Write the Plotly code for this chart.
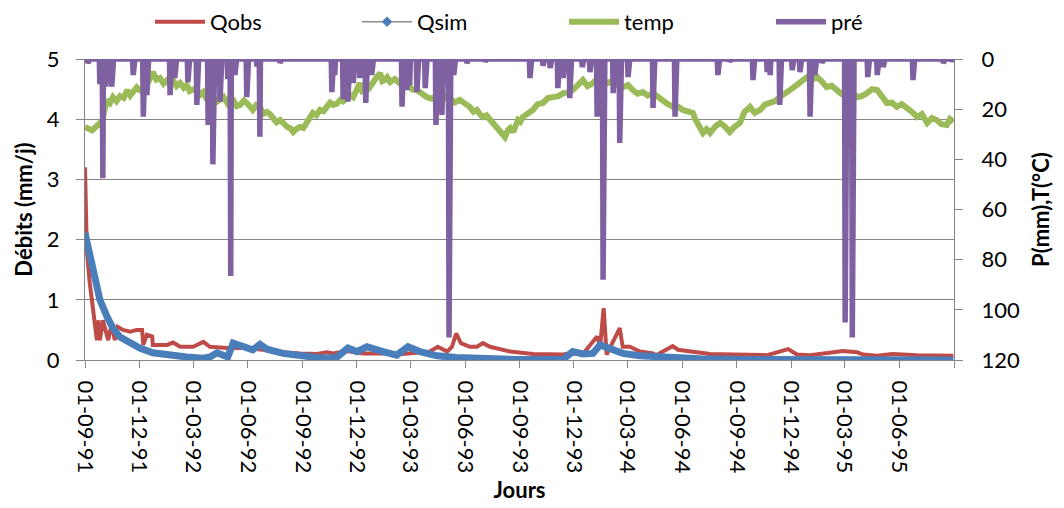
import pandas as pd
import plotly.graph_objects as go

# --- x-axis tick labels (quarterly) -------------------------------------
tick_labels = ["01-09-91", "01-12-91", "01-03-92", "01-06-92", "01-09-92",
               "01-12-92", "01-03-93", "01-06-93", "01-09-93", "01-12-93",
               "01-03-94", "01-06-94", "01-09-94", "01-12-94", "01-03-95",
               "01-06-95"]

# --- observed discharge (mm/j) --------------------------------------------
qobs_dates = ["1991-09-01", "1991-09-02", "1991-09-04", "1991-09-09", "1991-09-14",
              "1991-09-21", "1991-09-23", "1991-09-26", "1991-10-01", "1991-10-10",
              "1991-10-16", "1991-10-21", "1991-10-26", "1991-11-04", "1991-11-16",
              "1991-11-27", "1991-12-06", "1991-12-08", "1991-12-14", "1991-12-23",
              "1991-12-24", "1992-01-17", "1992-01-27", "1992-02-08", "1992-03-01",
              "1992-03-18", "1992-03-29", "1992-04-27", "1992-05-30", "1992-06-21",
              "1992-07-30", "1992-08-27", "1992-09-25", "1992-10-12", "1992-10-22",
              "1992-11-14", "1992-12-11", "1993-01-13", "1993-02-15", "1993-04-03",
              "1993-04-16", "1993-05-02", "1993-05-10", "1993-05-17", "1993-05-25",
              "1993-06-09", "1993-06-21", "1993-07-01", "1993-07-13", "1993-08-16",
              "1993-09-23", "1993-11-13", "1993-11-24", "1993-12-16", "1994-01-09",
              "1994-01-14", "1994-01-20", "1994-01-25", "1994-02-05", "1994-02-16",
              "1994-02-21", "1994-03-05", "1994-03-22", "1994-04-13", "1994-04-18",
              "1994-05-16", "1994-05-25", "1994-07-18", "1994-08-25", "1994-10-22",
              "1994-11-26", "1994-12-11", "1995-01-02", "1995-01-30", "1995-02-26",
              "1995-03-22", "1995-04-01", "1995-04-25", "1995-05-20", "1995-07-01",
              "1995-08-31"]
qobs_vals = [3.20, 2.60, 1.83, 1.28, 0.83,
             0.33, 0.66, 0.33, 0.66, 0.33,
             0.61, 0.33, 0.55, 0.50, 0.47,
             0.50, 0.50, 0.25, 0.42, 0.39,
             0.25, 0.25, 0.29, 0.22, 0.22,
             0.30, 0.22, 0.20, 0.20, 0.17,
             0.13, 0.11, 0.10, 0.13, 0.11,
             0.15, 0.11, 0.11, 0.10, 0.14,
             0.22, 0.14, 0.22, 0.44, 0.28,
             0.22, 0.22, 0.28, 0.22, 0.14,
             0.10, 0.09, 0.11, 0.10, 0.39,
             0.22, 0.86, 0.09, 0.33, 0.53,
             0.22, 0.22, 0.14, 0.11, 0.08,
             0.23, 0.17, 0.10, 0.09, 0.08,
             0.18, 0.09, 0.08, 0.12, 0.15,
             0.13, 0.09, 0.07, 0.10, 0.08,
             0.07]

# --- simulated discharge (mm/j) -------------------------------------------
qsim_dates = ["1991-09-01", "1991-09-09", "1991-09-18", "1991-09-26", "1991-10-08",
              "1991-10-18", "1991-10-30", "1991-11-16", "1991-12-02", "1991-12-24",
              "1992-01-17", "1992-02-19", "1992-03-17", "1992-03-29", "1992-04-10",
              "1992-04-18", "1992-04-28", "1992-05-07", "1992-05-19", "1992-05-30",
              "1992-06-09", "1992-06-21", "1992-07-03", "1992-07-30", "1992-08-27",
              "1992-09-25", "1992-10-17", "1992-10-29", "1992-11-16", "1992-12-01",
              "1992-12-18", "1992-12-28", "1993-01-14", "1993-02-06", "1993-02-25",
              "1993-03-17", "1993-04-15", "1993-05-18", "1993-07-01", "1993-08-27",
              "1993-11-13", "1993-11-29", "1993-12-16", "1994-01-02", "1994-01-14",
              "1994-01-30", "1994-02-21", "1994-03-22", "1994-05-06", "1994-07-01",
              "1994-09-05", "1995-08-31"]
qsim_vals = [2.11, 1.71, 1.33, 1.00, 0.72,
             0.53, 0.38, 0.28, 0.20, 0.12,
             0.08, 0.05, 0.03, 0.05, 0.12,
             0.08, 0.05, 0.28, 0.25, 0.20,
             0.17, 0.26, 0.18, 0.11, 0.07,
             0.04, 0.03, 0.05, 0.20, 0.14,
             0.22, 0.20, 0.14, 0.08, 0.22,
             0.14, 0.07, 0.04, 0.02, 0.01,
             0.01, 0.14, 0.10, 0.11, 0.25,
             0.20, 0.11, 0.07, 0.04, 0.02,
             0.01, 0.00]

# --- temperature (°C) -----------------------------------------------------
temp_dates = [
    "1991-09-01", "1991-09-13", "1991-09-26", "1991-09-29", "1991-10-03", "1991-10-05",
    "1991-10-08", "1991-10-13", "1991-10-18", "1991-10-24", "1991-10-30", "1991-11-05",
    "1991-11-11", "1991-11-16", "1991-11-21", "1991-11-27", "1991-12-02", "1991-12-08",
    "1991-12-14", "1991-12-19", "1991-12-24", "1991-12-30", "1992-01-05", "1992-01-11",
    "1992-01-17", "1992-01-22", "1992-01-27", "1992-02-02", "1992-02-08", "1992-02-14",
    "1992-02-19", "1992-02-24", "1992-03-01", "1992-03-06", "1992-03-12", "1992-03-18",
    "1992-03-24", "1992-03-29", "1992-04-03", "1992-04-09", "1992-04-15", "1992-04-21",
    "1992-04-27", "1992-05-02", "1992-05-07", "1992-05-13", "1992-05-19", "1992-05-25",
    "1992-05-30", "1992-06-04", "1992-06-09", "1992-06-15", "1992-06-21", "1992-06-27",
    "1992-07-03", "1992-07-08", "1992-07-13", "1992-07-19", "1992-07-25", "1992-07-31",
    "1992-08-06", "1992-08-11", "1992-08-16", "1992-08-21", "1992-08-27", "1992-09-02",
    "1992-09-08", "1992-09-13", "1992-09-18", "1992-09-24", "1992-09-30", "1992-10-06",
    "1992-10-12", "1992-10-17", "1992-10-22", "1992-10-28", "1992-11-03", "1992-11-08",
    "1992-11-14", "1992-11-19", "1992-11-25", "1992-11-30", "1992-12-06", "1992-12-10",
    "1992-12-15", "1992-12-19", "1992-12-23", "1993-01-01", "1993-01-09", "1993-01-13",
    "1993-01-17", "1993-01-21", "1993-01-26", "1993-02-03", "1993-02-12", "1993-02-18",
    "1993-02-25", "1993-03-05", "1993-03-12", "1993-03-20", "1993-03-29", "1993-04-07",
    "1993-04-15", "1993-04-20", "1993-04-25", "1993-05-01", "1993-05-07", "1993-05-15",
    "1993-05-23", "1993-06-01", "1993-06-09", "1993-06-15", "1993-06-21", "1993-06-26",
    "1993-07-01", "1993-07-07", "1993-07-13", "1993-07-19", "1993-07-25", "1993-08-01",
    "1993-08-07", "1993-08-12", "1993-08-16", "1993-08-21", "1993-08-25", "1993-08-29",
    "1993-09-02", "1993-09-06", "1993-09-14", "1993-09-23", "1993-10-01", "1993-10-10",
    "1993-10-18", "1993-10-27", "1993-11-05", "1993-11-13", "1993-11-21", "1993-11-29",
    "1993-12-07", "1993-12-16", "1993-12-24", "1994-01-02", "1994-01-10", "1994-01-19",
    "1994-01-27", "1994-02-05", "1994-02-13", "1994-02-22", "1994-03-02", "1994-03-10",
    "1994-03-18", "1994-03-27", "1994-04-04", "1994-04-13", "1994-04-21", "1994-04-30",
    "1994-05-08", "1994-05-17", "1994-05-25", "1994-06-02", "1994-06-10", "1994-06-19",
    "1994-06-23", "1994-06-28", "1994-07-02", "1994-07-06", "1994-07-12", "1994-07-18",
    "1994-07-27", "1994-08-04", "1994-08-12", "1994-08-20", "1994-08-28", "1994-09-06",
    "1994-09-14", "1994-09-23", "1994-10-01", "1994-10-10", "1994-10-18", "1994-10-27",
    "1994-11-04", "1994-11-12", "1994-11-20", "1994-11-29", "1994-12-07", "1994-12-16",
    "1994-12-22", "1994-12-28", "1995-01-05", "1995-01-14", "1995-01-22", "1995-01-30",
    "1995-02-07", "1995-02-16", "1995-02-24", "1995-03-05", "1995-03-13", "1995-03-22",
    "1995-03-30", "1995-04-08", "1995-04-16", "1995-04-25", "1995-05-03", "1995-05-11",
    "1995-05-20", "1995-05-28", "1995-06-05", "1995-06-14", "1995-06-22", "1995-07-01",
    "1995-07-09", "1995-07-18", "1995-07-26", "1995-08-03", "1995-08-11", "1995-08-20",
    "1995-08-25", "1995-08-31"]
temp_vals = [
    27.1, 28.5, 25.5, 27.0, 21.0, 18.0,
    16.3, 17.5, 15.2, 16.8, 14.8, 15.5,
    12.4, 14.5, 13.2, 11.3, 12.4, 13.0,
    10.4, 8.0, 5.2, 8.2, 7.6, 9.8,
    8.4, 10.2, 8.4, 10.8, 9.6, 11.5,
    10.4, 12.8, 12.4, 11.6, 14.4, 13.2,
    16.3, 13.8, 14.8, 17.2, 16.3, 15.2,
    17.5, 15.4, 16.3, 18.8, 18.3, 16.6,
    17.5, 19.2, 20.3, 18.4, 19.1, 21.8,
    21.1, 22.0, 23.1, 25.2, 24.3, 26.0,
    27.1, 27.6, 29.1, 28.0, 27.1, 27.5,
    25.5, 23.8, 21.5, 22.4, 20.3, 20.8,
    19.1, 17.4, 18.3, 17.9, 16.3, 16.9,
    15.6, 14.3, 15.2, 13.0, 9.6, 12.8,
    12.4, 10.0, 11.2, 8.0, 5.6, 8.8,
    8.4, 7.3, 9.2, 8.0, 9.6, 11.2,
    10.4, 12.2, 12.4, 14.0, 15.2, 15.8,
    14.4, 15.6, 16.3, 14.8, 15.6, 17.3,
    16.3, 18.0, 19.1, 21.0, 20.3, 22.0,
    23.1, 22.5, 24.3, 26.0, 27.1, 29.5,
    31.1, 28.3, 27.5, 29.1, 26.0, 24.3,
    25.0, 23.1, 21.8, 20.3, 18.0, 17.5,
    15.6, 15.2, 14.8, 13.6, 13.4, 12.4,
    10.2, 8.4, 10.8, 9.6, 7.6, 8.4,
    9.6, 8.4, 10.4, 11.2, 10.4, 12.4,
    13.8, 13.2, 14.6, 13.6, 15.2, 16.3,
    18.0, 19.1, 19.0, 20.3, 20.6, 21.5,
    24.0, 26.3, 27.2, 29.5, 28.0, 29.5,
    26.8, 25.5, 27.0, 29.1, 27.0, 25.5,
    21.0, 19.1, 21.5, 20.3, 18.2, 17.5,
    16.8, 15.2, 13.6, 12.4, 11.0, 9.6,
    8.6, 7.2, 8.2, 7.2, 9.0, 11.2,
    10.6, 12.4, 14.0, 13.6, 13.0, 15.2,
    14.8, 13.6, 12.0, 12.4, 15.0, 17.5,
    17.4, 19.1, 18.0, 19.5, 21.0, 23.1,
    22.0, 25.5, 23.5, 24.3, 26.0, 26.3,
    24.0, 25.1]

# --- daily rainfall (mm), rainy days only --------------------------------
pre_dates = ["1991-09-06", "1991-09-26", "1991-10-01", "1991-10-06", "1991-10-16",
             "1991-11-21", "1991-12-08", "1991-12-14", "1992-01-22", "1992-01-30",
             "1992-02-21", "1992-03-07", "1992-03-26", "1992-04-03", "1992-04-15",
             "1992-04-28", "1992-05-03", "1992-05-10", "1992-05-30", "1992-06-16",
             "1992-06-21", "1992-07-25", "1992-10-20", "1992-10-25", "1992-11-08",
             "1992-11-16", "1992-11-25", "1992-12-06", "1992-12-16", "1992-12-26",
             "1993-02-15", "1993-02-23", "1993-02-28", "1993-03-12", "1993-03-26",
             "1993-04-13", "1993-04-23", "1993-05-05", "1993-05-13", "1993-06-04",
             "1993-07-05", "1993-09-18", "1993-10-10", "1993-10-22", "1993-11-04",
             "1993-11-13", "1993-11-24", "1993-12-15", "1993-12-28", "1994-01-09",
             "1994-01-19", "1994-02-05", "1994-02-16", "1994-03-02", "1994-04-13",
             "1994-05-20", "1994-07-31", "1994-08-20", "1994-09-28", "1994-10-22",
             "1994-10-27", "1994-11-12", "1994-12-03", "1994-12-16", "1995-01-02",
             "1995-01-10", "1995-01-22", "1995-03-02", "1995-03-07", "1995-03-14",
             "1995-04-09", "1995-04-25", "1995-05-05", "1995-06-24", "1995-08-14",
             "1995-08-29"]
pre_mm = [1.6, 10.0, 47.5, 11.0, 11.0,
          6.4, 23.0, 14.4, 14.4, 7.6,
          9.2, 18.3, 26.3, 42.0, 17.0,
          8.0, 86.5, 6.4, 15.2, 3.0,
          31.0, 1.5, 13.2, 6.4, 16.0,
          17.0, 9.6, 7.6, 17.5, 6.4,
          19.0, 12.4, 10.4, 13.2, 11.6,
          26.3, 22.3, 111.0, 6.4, 1.6,
          1.0, 7.6, 2.7, 3.6, 11.6,
          7.6, 15.6, 3.2, 5.2, 23.0,
          88.0, 13.6, 33.5, 7.2, 19.5,
          23.0, 6.4, 1.0, 8.4, 5.2,
          6.4, 18.3, 4.4, 5.2, 23.0,
          6.4, 1.5, 105.0, 30.0, 111.0,
          7.2, 6.4, 3.2, 8.4, 1.6,
          1.0]

# Daily rainfall record: dry days are 0 mm
days = pd.date_range("1991-09-01", "1995-08-31", freq="D")
pre = pd.Series(0.0, index=days)
pre.loc[pd.to_datetime(pre_dates)] = pre_mm

tick_vals = list(pd.to_datetime(tick_labels, format="%d-%m-%y")) + [pd.Timestamp("1995-09-01")]
tick_text = tick_labels + [""]

FONT = "Lato"
GRID = "#868686"

# plot area in pixels, used to place the legend above it
PLOT_W = 1064 - 85 - 110
PLOT_H = 508 - 59 - 148

fig = go.Figure()
fig.add_trace(go.Scatter(x=qobs_dates, y=qobs_vals, name="Qobs", mode="lines",
                         line=dict(color="#BE4B48", width=4)))
fig.add_trace(go.Scatter(x=qsim_dates, y=qsim_vals, name="Qsim", mode="lines",
                         line=dict(color="#4A7EBB", width=7), showlegend=False,
                         legendgroup="qsim"))
fig.add_trace(go.Scatter(x=[None], y=[None], name="Qsim", mode="lines+markers",
                         line=dict(color="#8C8C8C", width=1.5),
                         marker=dict(symbol="diamond", size=8, color="#4A7EBB"),
                         legendgroup="qsim"))
fig.add_trace(go.Scatter(x=temp_dates, y=temp_vals, name="temp", mode="lines",
                         line=dict(color="#9BBB59", width=6), yaxis="y2"))
fig.add_trace(go.Scatter(x=pre.index, y=pre.values, name="pré", mode="lines",
                         line=dict(color="#7F60A1", width=5.5), yaxis="y2"))

fig.update_layout(
    width=1064, height=508,
    margin=dict(l=85, r=110, t=59, b=148, autoexpand=False),
    paper_bgcolor="white", plot_bgcolor="white",
    font=dict(family=FONT, size=22, color="black"),
    showlegend=True,
    legend=dict(orientation="h",
                x=(150 - 85) / PLOT_W, y=1 + (59 - 1) / PLOT_H,
                xanchor="left", yanchor="top",
                entrywidth=142, entrywidthmode="pixels", itemwidth=50,
                font=dict(family=FONT, size=22), bgcolor="rgba(0,0,0,0)"),
    xaxis=dict(type="date", range=["1991-09-01", "1995-09-01"],
               tickmode="array", tickvals=tick_vals, ticktext=tick_text,
               tickangle=90, ticks="outside", ticklen=7, tickcolor=GRID,
               ticklabelstandoff=8,
               showline=True, linecolor=GRID, linewidth=1, showgrid=False,
               zeroline=False,
               title=dict(text="<b>Jours</b>", standoff=10,
                          font=dict(family=FONT, size=22))),
    yaxis=dict(range=[0, 5], dtick=1, tick0=0, showgrid=True, gridcolor=GRID,
               gridwidth=1, zeroline=False, showline=True, linecolor=GRID,
               ticks="outside", ticklen=8, tickcolor=GRID, ticklabelstandoff=12,
               title=dict(text="<b>Débits (mm/j)</b>", standoff=8,
                          font=dict(family=FONT, size=22))),
    yaxis2=dict(overlaying="y", side="right", range=[120, 0], dtick=20, tick0=0,
                showgrid=False, zeroline=False, showline=True, linecolor=GRID,
                ticks="outside", ticklen=8, tickcolor=GRID, ticklabelstandoff=14,
                title=dict(text="<b>P(mm),T(°C)</b>", standoff=14,
                           font=dict(family=FONT, size=22))),
)

fig.write_html("out.html")
